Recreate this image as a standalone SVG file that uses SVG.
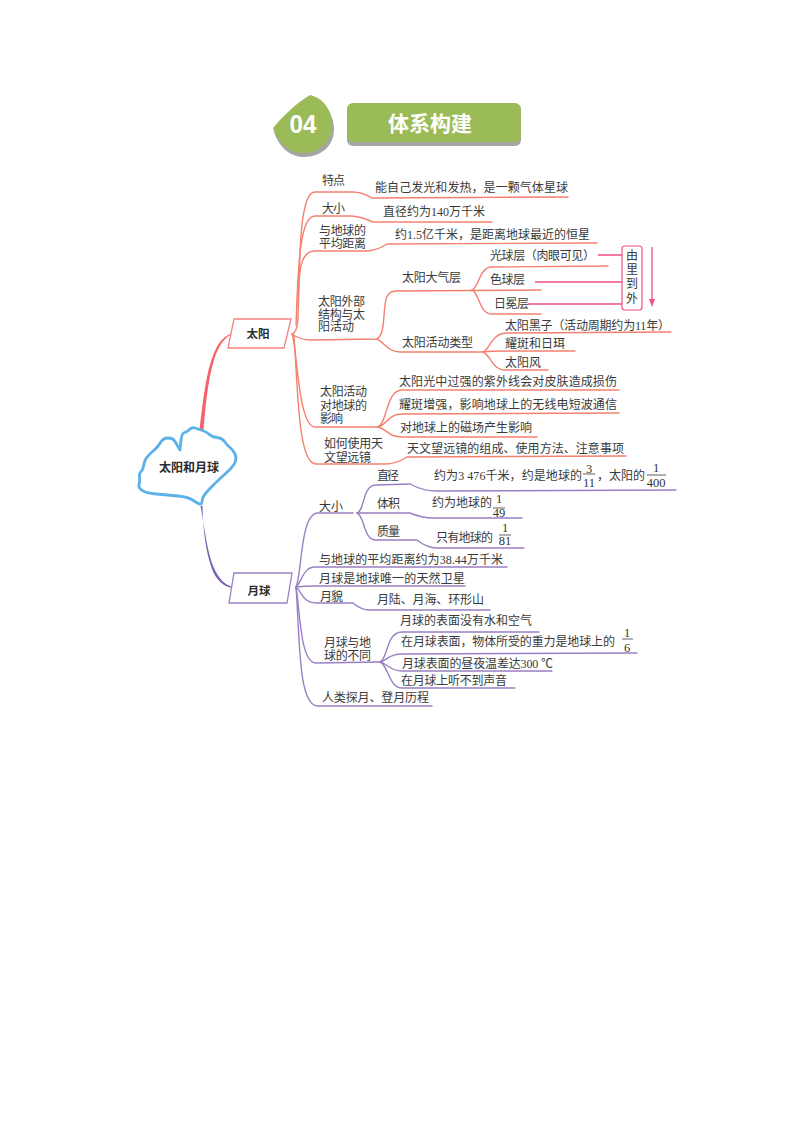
<svg xmlns="http://www.w3.org/2000/svg" width="793" height="1122" viewBox="0 0 793 1122">
<style>
text{font-family:"Liberation Serif","Noto Sans CJK SC",serif;font-size:12px;fill:#3a3a3a}
.s{fill:none;stroke:#f4806f;stroke-width:1.4;stroke-linecap:round}
.m{fill:none;stroke:#9a7fc4;stroke-width:1.4;stroke-linecap:round}
.p{fill:none;stroke:#ee4f86;stroke-width:1.3}
.f{fill:none;stroke:#3a3a3a;stroke-width:.8}
.c{text-anchor:middle}
.n{text-anchor:middle;font-size:12.5px;fill:#333}
.b{font-family:"Liberation Sans","Noto Sans CJK SC",sans-serif;font-weight:700;font-size:11.5px;fill:#2b2b2b;text-anchor:middle}
.box{fill:#fff;stroke-width:1.3}
</style>
<rect width="793" height="1122" fill="#fff"/>
<g id="title-badge">
<path d="M310 99C324 101 334 114 334 129C334 146 321 157 304 157C290 157 279 147 274 132C284 120 296 108 310 99Z" fill="#a6a6a6"/>
<path d="M310 95C323 98 332 110 332 125C332 142 319 153 303 153C289 153 278 143 273 128C283 116 295 104 310 95Z" fill="#9bbb59"/>
<text x="303" y="133" class="c" style="font-family:'Liberation Sans Narrow','Liberation Sans',sans-serif;font-size:26px;font-weight:700;fill:#fff" textLength="27" lengthAdjust="spacingAndGlyphs">04</text>
</g>
<g id="title-bar">
<rect x="347" y="107" width="174" height="39" rx="6" fill="#a6a6a6"/>
<rect x="347" y="103" width="174" height="39" rx="6" fill="#9bbb59"/>
<text x="430" y="131" class="c" style="font-family:'Noto Sans CJK SC',sans-serif;font-size:21px;font-weight:700;fill:#fff">体系构建</text>
</g>
<g id="connectors">
<path d="M199.5 430C203 400 206 372 214 353C219 341 225 335 232 334L232 334.8C226 336 221 343 216 354C209 373 206 400 203.5 430Z" fill="#f8626a"/>
<path d="M200.5 506C205 530 207 552 214 568C219 579 225 585 233 587L232.6 588C224 587 216 580 212 569C206 553 203 530 202.5 506Z" fill="#7d63b3"/>
<path class="s" d="M292 334Q297 333 298 318C300 270 298 192 315 192L353 192Q362 192 372 198L568 197"/>
<path class="s" d="M296 325C298 280 298 216 315 216L352 216Q362 217 373 222L492 222"/>
<path class="s" d="M298 305C299 270 300 251 315 251L368 251Q378 250 387 244L597 243"/>
<path class="s" d="M292 334Q300 340 312 340L377 339C383 335 383 326 384 316C385 300 386 291 396 291L541 290"/>
<path class="s" d="M472 290C479 288 479 267 492 267L608 266"/>
<path class="s" d="M472 290C479 292 479 314 492 314L541 314"/>
<path class="s" d="M377 339C384 342 388 352 400 352L483 352"/>
<path class="s" d="M483 352C490 350 491 333 507 333L671 332"/>
<path class="s" d="M483 352Q490 351 507 351L575 351"/>
<path class="s" d="M483 352C490 354 492 370 505 370L548 370"/>
<path class="s" d="M292 334C297 345 298 427 315 427L378 427"/>
<path class="s" d="M378 427C387 424 386 390 402 390L619 390"/>
<path class="s" d="M378 427C387 425 388 414 402 414L619 413"/>
<path class="s" d="M378 427C387 429 388 437 402 437L537 437"/>
<path class="s" d="M294 336C298 390 298 464 316 464L385 464Q396 464 407 457L626 456"/>
<path class="m" d="M296 587C302 575 300 513 318 513L353 513"/>
<path class="m" d="M357 513C365 511 362 485 376 485L410 484Q423 491 437 491L676 490"/>
<path class="m" d="M357 513L410 513Q422 518 433 518L522 518"/>
<path class="m" d="M357 513C365 516 363 540 376 540L417 540Q427 548 437 548L524 548"/>
<path class="m" d="M296 587C302 582 303 567 315 567L507 567"/>
<path class="m" d="M296 587Q305 586 315 586L465 586"/>
<path class="m" d="M296 587C302 592 303 603 316 603L353 603Q361 610 370 610L490 610"/>
<path class="m" d="M296 587C300 610 300 663 316 663L380 662"/>
<path class="m" d="M380 662C388 659 386 632 402 632L539 632"/>
<path class="m" d="M380 662C388 660 388 654 402 654L637 653"/>
<path class="m" d="M380 662C388 664 390 671 402 671L552 671"/>
<path class="m" d="M380 662C388 665 389 688 402 688L515 688"/>
<path class="m" d="M296 587C300 640 298 706 318 706L432 706"/>
<path class="p" d="M598 255H622M535 282H622M528 304H622"/>
<path class="p" d="M652 247V303"/>
<path d="M649 299H655L652 307Z" fill="#ee4f86"/>
</g>
<g id="root">
<path d="M180 450L181 440Q182 433 184.500 432.500Q187 432 189.500 429.500Q192 427 195 428Q198 429 202.500 430.500Q207 432 209.500 434.500Q212 437 217 437.500Q222 438 224.500 441.500Q227 445 230 447.500Q233 450 235 454Q237 458 235 462.500Q233 467 224 475Q215 483 208.500 490Q202 497 202 501Q202 505 199.500 504Q197 503 192.500 500Q188 497 178 496Q168 495 156.500 494Q145 493 141.500 490Q138 487 139 484.500Q140 482 139.500 477.500Q139 473 141 471.500Q143 470 144 464Q145 458 151.500 452.500Q158 447 160.500 442.500Q163 438 168 438Q173 438 175 441.500Q177 445 180 450Z" fill="#fff" stroke="#5cb2e8" stroke-width="2.8" stroke-linejoin="round"/>
<text x="189" y="472" class="b" style="font-size:12px">太阳和月球</text>
</g>
<g id="sun">
<path class="box" stroke="#f8807c" d="M234 319H291L284 348H228Z"/>
<text x="258" y="338" class="b">太阳</text>
</g>
<g id="moon">
<path class="box" stroke="#9a7fc4" d="M234 573H292L287 603H229Z"/>
<text x="259" y="595" class="b">月球</text>
</g>
<g id="sun-labels">
<text x="322" y="185" textLength="23">特点</text>
<text x="375" y="192" textLength="193">能自己发光和发热，是一颗气体星球</text>
<text x="322" y="213" textLength="23">大小</text>
<text x="383" y="216" textLength="102">直径约为140万千米</text>
<text x="319" y="235" textLength="47">与地球的</text>
<text x="319" y="248" textLength="47">平均距离</text>
<text x="395" y="239" textLength="195">约1.5亿千米，是距离地球最近的恒星</text>
<text x="490" y="260" textLength="105">光球层（肉眼可见）</text>
<text x="402" y="282" textLength="59">太阳大气层</text>
<text x="490" y="284" textLength="35">色球层</text>
<text x="494" y="308" textLength="35">日冕层</text>
<text x="318" y="306" textLength="47">太阳外部</text>
<text x="318" y="319" textLength="47">结构与太</text>
<text x="318" y="331" textLength="36">阳活动</text>
<text x="402" y="347" textLength="71">太阳活动类型</text>
<text x="505" y="330" textLength="165">太阳黑子（活动周期约为11年）</text>
<text x="505" y="348" textLength="60">耀斑和日珥</text>
<text x="505" y="367" textLength="36">太阳风</text>
<text x="399" y="386" textLength="218">太阳光中过强的紫外线会对皮肤造成损伤</text>
<text x="399" y="409" textLength="218">耀斑增强，影响地球上的无线电短波通信</text>
<text x="400" y="432" textLength="132">对地球上的磁场产生影响</text>
<text x="320" y="396" textLength="47">太阳活动</text>
<text x="320" y="410" textLength="47">对地球的</text>
<text x="320" y="423" textLength="23">影响</text>
<text x="324" y="448" textLength="59">如何使用天</text>
<text x="324" y="462" textLength="47">文望远镜</text>
<text x="407" y="453" textLength="217">天文望远镜的组成、使用方法、注意事项</text>
</g>
<g id="order-box">
<rect x="622" y="246" width="20" height="64" rx="3" fill="#fff" stroke="#ee4f86" stroke-width="1.2"/>
<text x="632" y="260" class="c">由</text>
<text x="632" y="274" class="c">里</text>
<text x="632" y="288" class="c">到</text>
<text x="632" y="303" class="c">外</text>
</g>
<g id="moon-labels">
<text x="377" y="480" textLength="22">直径</text>
<text x="434" y="480" textLength="148">约为3 476千米，约是地球的</text>
<text x="589" y="473" class="n">3</text>
<path class="f" d="M583 474H595"/>
<text x="589" y="487" class="n">11</text>
<text x="597" y="480" textLength="48">，太阳的</text>
<text x="656" y="472" class="n">1</text>
<path class="f" d="M647 475H666"/>
<text x="656" y="487" class="n">400</text>
<text x="377" y="508" textLength="23">体积</text>
<text x="432" y="507" textLength="60">约为地球的</text>
<text x="499" y="503" class="n">1</text>
<path class="f" d="M493 508H505"/>
<text x="499" y="517" class="n">49</text>
<text x="377" y="536" textLength="23">质量</text>
<text x="436" y="542" textLength="57">只有地球的</text>
<text x="505" y="532" class="n">1</text>
<path class="f" d="M499 535H511"/>
<text x="505" y="545" class="n">81</text>
<text x="319" y="511" textLength="24">大小</text>
<text x="319" y="564" textLength="184">与地球的平均距离约为38.44万千米</text>
<text x="319" y="583" textLength="146">月球是地球唯一的天然卫星</text>
<text x="320" y="601" textLength="23">月貌</text>
<text x="377" y="604" textLength="107">月陆、月海、环形山</text>
<text x="400" y="625" textLength="132">月球的表面没有水和空气</text>
<text x="401" y="646" textLength="214">在月球表面，物体所受的重力是地球上的</text>
<text x="627" y="637" class="n">1</text>
<path class="f" d="M622 639H633"/>
<text x="627" y="652" class="n">6</text>
<text x="402" y="668" textLength="151">月球表面的昼夜温差达300 ℃</text>
<text x="401" y="685" textLength="106">在月球上听不到声音</text>
<text x="324" y="647" textLength="47">月球与地</text>
<text x="324" y="660" textLength="47">球的不同</text>
<text x="322" y="702" textLength="107">人类探月、登月历程</text>
</g>
</svg>
